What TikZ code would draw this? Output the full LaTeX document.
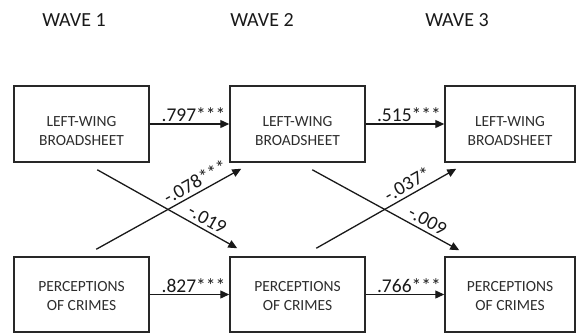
\documentclass[tikz,border=0pt]{standalone}
\usepackage{fontspec}
\setmainfont{Carlito}
\usetikzlibrary{positioning,arrows.meta,calc}
\definecolor{BoxLine}{RGB}{40,40,40}
\definecolor{TxtGray}{RGB}{45,45,45}

\begin{document}
\begin{tikzpicture}[x=1bp,y=-1bp,
box/.style={draw=BoxLine,line width=1.5bp,minimum width=135bp,minimum height=76bp,inner sep=0pt},
boxtxt/.style={align=center,text=TxtGray,font=\fontsize{15.5bp}{19bp}\selectfont},
wave/.style={font=\fontsize{20bp}{24bp}\selectfont,text=black!90},
arr/.style={-{Triangle[length=9bp,width=8bp]},line width=1.3bp,black!90},
coef/.style={font=\fontsize{19.5bp}{23bp}\selectfont,text=black!90,inner sep=1.5bp}
]
\useasboundingbox (0,0) rectangle (576,333);
% wave headings
\node[wave] (w1) at (74,20.5) {WAVE 1};
\node[wave] (w2) at (262,20.5) {WAVE 2};
\node[wave] (w3) at (457,20.5) {WAVE 3};
% left-wing broadsheet row
\node[box] (lw1) at (81.5,124) {};
\node[box] (lw2) at (297.5,124) {};
\node[box,minimum width=130bp] (lw3) at (510,124) {};
\node[boxtxt] (lw1t) at (81.5,131.5) {LEFT-WING\\BROADSHEET};
\node[boxtxt] (lw2t) at (297.5,131.5) {LEFT-WING\\BROADSHEET};
\node[boxtxt] (lw3t) at (510,131.5) {LEFT-WING\\BROADSHEET};
% perceptions of crimes row
\node[box,minimum height=75bp] (pc1) at (81.5,294.5) {};
\node[box,minimum height=75bp] (pc2) at (297.5,294.5) {};
\node[box,minimum height=75bp,minimum width=130bp] (pc3) at (510,294.5) {};
\node[boxtxt] (pc1t) at (81.5,296.5) {PERCEPTIONS\\OF CRIMES};
\node[boxtxt] (pc2t) at (297.5,296.5) {PERCEPTIONS\\OF CRIMES};
\node[boxtxt] (pc3t) at (510,296.5) {PERCEPTIONS\\OF CRIMES};
% stability paths
\draw[arr] (lw1.east) -- node[coef,above,pos=0.55]{.797***} (lw2.west);
\draw[arr] (lw2.east) -- node[coef,above,pos=0.55]{.515***} (lw3.west);
\draw[arr] (pc1.east) -- node[coef,above,pos=0.55]{.827***} (pc2.west);
\draw[arr] (pc2.east) -- node[coef,above,pos=0.55]{.766***} (pc3.west);
% cross-lagged paths
\coordinate (s1) at ($(lw1.south west)+(84,7)$);
\coordinate (e1) at ($(pc2.north west)+(8,-8)$);
\coordinate (s2) at ($(pc1.north west)+(83,-7)$);
\coordinate (e2) at ($(lw2.south west)+(12,6)$);
\coordinate (s3) at ($(lw2.south west)+(83,7)$);
\coordinate (e3) at ($(pc3.north west)+(15,-6)$);
\coordinate (s4) at ($(pc2.north west)+(87,-8)$);
\coordinate (e4) at ($(lw3.south west)+(12,6)$);
\draw[arr] (s1) -- node[coef,above=2bp,sloped,pos=0.75]{-.019} (e1);
\draw[arr] (s2) -- node[coef,above=2bp,sloped,pos=0.72]{-.078***} (e2);
\draw[arr] (s3) -- node[coef,above=2bp,sloped,pos=0.75]{-.009} (e3);
\draw[arr] (s4) -- node[coef,above=2bp,sloped,pos=0.69]{-.037*} (e4);
\end{tikzpicture}
\end{document}
